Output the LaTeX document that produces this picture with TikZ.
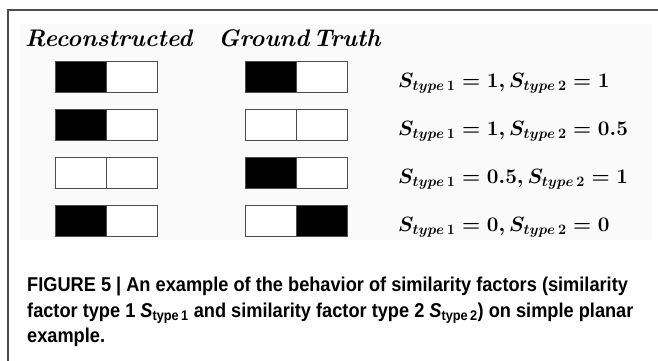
\documentclass[tikz,border=0pt]{standalone}
\usepackage{amsmath,amssymb}
\usepackage{fontspec}
\newfontfamily\capfont[FakeStretch=0.91]{Liberation Sans}
\usepackage{tikz}

\tikzset{
	cell/.style={draw=black!70, line width=0.9pt, minimum width=51pt, minimum height=31pt, inner sep=0pt, outer sep=0pt},
	on/.style={cell, fill=black},
	off/.style={cell, fill=white},
	head/.style={anchor=base west, inner sep=0pt, font=\fontsize{24}{28}\selectfont\bfseries\itshape},
	score/.style={anchor=base west, inner sep=0pt, font=\fontsize{22}{25}\selectfont\boldmath}
}

\begin{document}
\begin{tikzpicture}[x=1pt, y=-1pt]
	\useasboundingbox (0,0) rectangle (658,361);
	\fill[black!2] (20,24) rectangle (652,240);
	\draw[black!70, line width=1.4pt] (658,10) -- (8,10) -- (8,361);
	\node[head] (rec) at (25,47) {Reconstructed};
	\node[head] (gt) at (218,47) {Ground\,Truth};
	% row 1
	\node[on]  (r1a) at (80.5,77) {};  \node[off] (r1b) at (131.5,77) {};
	\node[on]  (g1a) at (270.5,77) {}; \node[off] (g1b) at (321.5,77) {};
	\node[score] (s1) at (398,87) {$S_{type\,1}=1, S_{type\,2}=1$};
	% row 2
	\node[on]  (r2a) at (80.5,125) {};  \node[off] (r2b) at (131.5,125) {};
	\node[off] (g2a) at (270.5,125) {}; \node[off] (g2b) at (321.5,125) {};
	\node[score] (s2) at (398,135) {$S_{type\,1}=1, S_{type\,2}=0.5$};
	% row 3
	\node[off] (r3a) at (80.5,173) {};  \node[off] (r3b) at (131.5,173) {};
	\node[on]  (g3a) at (270.5,173) {}; \node[off] (g3b) at (321.5,173) {};
	\node[score] (s3) at (398,183) {$S_{type\,1}=0.5, S_{type\,2}=1$};
	% row 4
	\node[on]  (r4a) at (80.5,221) {};  \node[off] (r4b) at (131.5,221) {};
	\node[off] (g4a) at (270.5,221) {}; \node[on]  (g4b) at (321.5,221) {};
	\node[score] (s4) at (398,231) {$S_{type\,1}=0, S_{type\,2}=0$};
	% caption
	\node[anchor=north west, inner sep=0pt, align=left, font=\capfont\bfseries\fontsize{20}{25.5}\selectfont] (cap) at (27,277)
		{FIGURE 5 | An example of the behavior of similarity factors (similarity\\
		factor type 1 {\itshape S}\textsubscript{type\,1} and similarity factor type 2 {\itshape S}\textsubscript{type\,2}) on simple planar\\
		example.};
\end{tikzpicture}
\end{document}
